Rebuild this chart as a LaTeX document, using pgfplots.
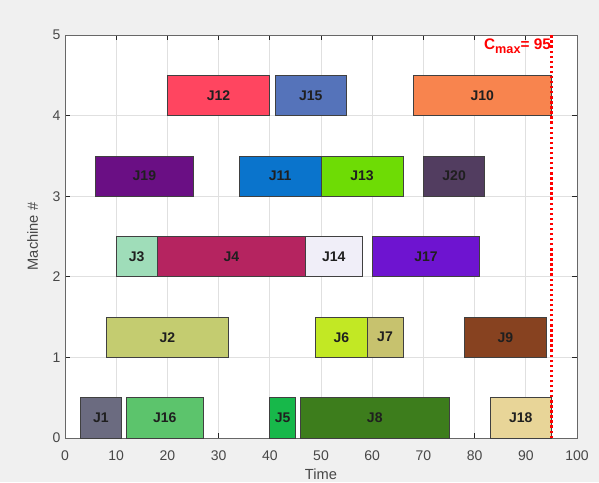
\documentclass[border=0pt]{standalone}
\usepackage{pgfplots}
\pgfplotsset{compat=1.18}
\usepackage{fontspec}
\setmainfont{Liberation Sans}

% job colours
\definecolor{cJ1}{HTML}{6B6B80}
\definecolor{cJ2}{HTML}{C4CC70}
\definecolor{cJ3}{HTML}{9FDDB9}
\definecolor{cJ4}{HTML}{B52460}
\definecolor{cJ5}{HTML}{17B84A}
\definecolor{cJ6}{HTML}{C2E824}
\definecolor{cJ7}{HTML}{C7C26E}
\definecolor{cJ8}{HTML}{3D7D1C}
\definecolor{cJ9}{HTML}{874220}
\definecolor{cJ10}{HTML}{F8844E}
\definecolor{cJ11}{HTML}{0A74CC}
\definecolor{cJ12}{HTML}{FF4560}
\definecolor{cJ13}{HTML}{6EDC05}
\definecolor{cJ14}{HTML}{F0EEF8}
\definecolor{cJ15}{HTML}{5573BA}
\definecolor{cJ16}{HTML}{5CC46C}
\definecolor{cJ17}{HTML}{6E14D0}
\definecolor{cJ18}{HTML}{E8D598}
\definecolor{cJ19}{HTML}{6A0F84}
\definecolor{cJ20}{HTML}{523D60}
\definecolor{axgray}{HTML}{262626}
\definecolor{figbg}{HTML}{F0F0F0}

% one operation: start, end, machine row, colour
\newcommand{\job}[4]{%
  \addplot[fill=#4, draw=black!75, line width=0.6pt]
    coordinates {(#1,#3) (#2,#3) (#2,#3+0.5) (#1,#3+0.5)} -- cycle;}

\begin{document}
\begin{tikzpicture}[x=1pt,y=1pt]
\fill[figbg] (0,0) rectangle (449.25,361.5);
\begin{axis}[
  at={(48.75pt,33pt)}, anchor=south west,
  scale only axis, width=384pt, height=302.25pt,
  xmin=0, xmax=100, ymin=0, ymax=5,
  xtick={0,10,...,100}, ytick={0,1,...,5},
  tick align=inside, major tick length=4pt,
  grid=major, major grid style={draw=black!12, line width=0.5pt},
  axis line style={draw=axgray!70, line width=0.6pt},
  tick style={draw=axgray, line width=0.5pt},
  every tick label/.append style={text=axgray!85, font=\fontsize{10.5}{12}\selectfont},
  xticklabel style={yshift=-6pt},
  /pgf/number format/assume math mode=true,
  xlabel={Time}, ylabel={Machine \#},
  label style={text=axgray!85, font=\fontsize{11}{13}\selectfont},
  xlabel style={yshift=1pt},
  ylabel style={yshift=4pt},
  axis background/.style={fill=white},
  clip=false,
]
% machine 0
\job{3}{11}{0}{cJ1}
\job{12}{27}{0}{cJ16}
\job{40}{45}{0}{cJ5}
\job{46}{75}{0}{cJ8}
\job{83}{95}{0}{cJ18}
% machine 1
\job{8}{32}{1}{cJ2}
\job{49}{59}{1}{cJ6}
\job{59}{66}{1}{cJ7}
\job{78}{94}{1}{cJ9}
% machine 2
\job{10}{18}{2}{cJ3}
\job{18}{47}{2}{cJ4}
\job{47}{58}{2}{cJ14}
\job{60}{81}{2}{cJ17}
% machine 3
\job{6}{25}{3}{cJ19}
\job{34}{50}{3}{cJ11}
\job{50}{66}{3}{cJ13}
\job{70}{82}{3}{cJ20}
% machine 4
\job{20}{40}{4}{cJ12}
\job{41}{55}{4}{cJ15}
\job{68}{95}{4}{cJ10}

% job names at the centre of each operation
\addplot[only marks, mark=none, nodes near coords, point meta=explicit symbolic,
  every node near coord/.append style={anchor=center, font=\bfseries\fontsize{10.5}{12}\selectfont, text=black!88}]
  table[meta=label] {
x y label
7 0.25 J1
19.5 0.25 J16
42.5 0.25 J5
60.5 0.25 J8
89 0.25 J18
20 1.25 J2
54 1.25 J6
62.5 1.25 J7
86 1.25 J9
14 2.25 J3
32.5 2.25 J4
52.5 2.25 J14
70.5 2.25 J17
15.5 3.25 J19
42 3.25 J11
58 3.25 J13
76 3.25 J20
30 4.25 J12
48 4.25 J15
81.5 4.25 J10
};

% makespan
\addplot[red, dotted, line width=1.8pt] coordinates {(95,0) (95,5)};
\node[anchor=north east, text=red, font=\bfseries\fontsize{11.5}{13}\selectfont, inner sep=1pt]
  at (axis cs:95.2,4.97) {C\raisebox{-0.45ex}{\fontsize{9.5}{11}\selectfont max}= 95};
\end{axis}
\pgfresetboundingbox
\useasboundingbox (0,0) rectangle (449.25,361.5);
\end{tikzpicture}
\end{document}
